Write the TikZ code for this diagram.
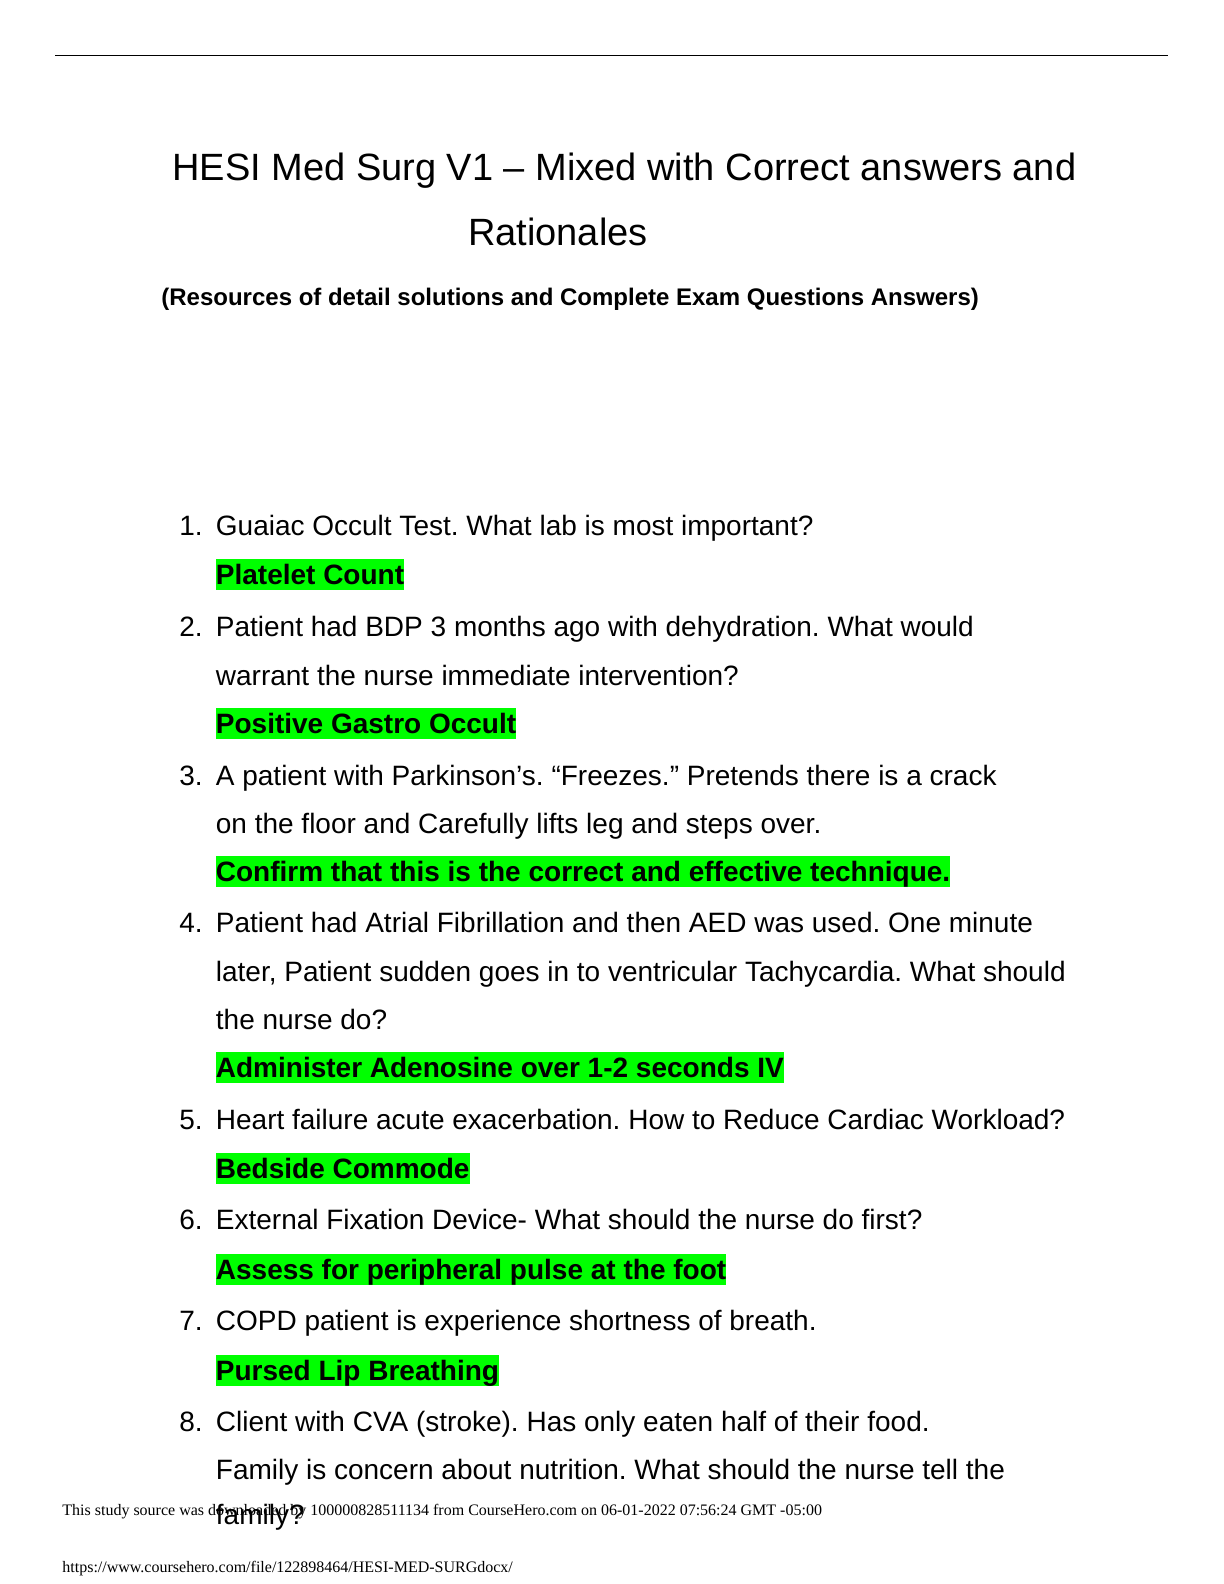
\documentclass[tikz,border=0pt]{standalone}
\usepackage{tikz}
\usepackage{fontspec}
\setmainfont{Liberation Sans}
\newfontfamily\footfont{Liberation Serif}
\definecolor{hlgreen}{RGB}{0,255,0}
\frenchspacing
\begin{document}
\begin{tikzpicture}[x=0.5pt,y=-0.5pt,
		every node/.style={inner sep=0pt,anchor=base west},
		qtext/.style={font=\fontsize{14}{16}\selectfont},
		anstext/.style={font=\fontsize{14}{16}\selectfont\bfseries,fill=hlgreen,
			text height=12.67pt,text depth=2.97pt},
		foot/.style={font=\footfont\fontsize{8}{9}\selectfont}]
		\useasboundingbox (0,0) rectangle (1224,1584);

		\coordinate (ruleL) at (55,55.7);
		\coordinate (ruleR) at (1168,55.7);
		\draw [line width=0.75pt] (ruleL) -- (ruleR);

		\node [font=\fontsize{19}{22}\selectfont] at (172,180) (title1) {HESI Med Surg V1 – Mixed with Correct answers and};
		\node [font=\fontsize{19}{22}\selectfont] at (467.7,245) (title2) {Rationales};
		\node [font=\fontsize{12}{14}\selectfont\bfseries] at (161,305) (subtitle) {(Resources of detail solutions and Complete Exam Questions Answers)};

		% questions and answers
		\node [qtext] at (179,535) (n1) {1.};
		\node [qtext] at (215.5,535) (q1) {Guaiac Occult Test. What lab is most important?};
		\node [anstext] at (215.5,584) (a1) {Platelet Count};

		\node [qtext] at (179,636) (n2) {2.};
		\node [qtext] at (215.5,636) (q2a) {Patient had BDP 3 months ago with dehydration. What would};
		\node [qtext] at (215.5,685) (q2b) {warrant the nurse immediate intervention?};
		\node [anstext] at (215.5,733) (a2) {Positive Gastro Occult};

		\node [qtext] at (179,785) (n3) {3.};
		\node [qtext] at (215.5,785) (q3a) {A patient with Parkinson’s. “Freezes.” Pretends there is a crack};
		\node [qtext] at (215.5,833) (q3b) {on the floor and Carefully lifts leg and steps over.};
		\node [anstext] at (215.5,881) (a3) {Confirm that this is the correct and effective technique.};

		\node [qtext] at (179,932) (n4) {4.};
		\node [qtext] at (215.5,932) (q4a) {Patient had Atrial Fibrillation and then AED was used. One minute};
		\node [qtext] at (215.5,981) (q4b) {later, Patient sudden goes in to ventricular Tachycardia. What should};
		\node [qtext] at (215.5,1029) (q4c) {the nurse do?};
		\node [anstext] at (215.5,1077) (a4) {Administer Adenosine over 1-2 seconds IV};

		\node [qtext] at (179,1129) (n5) {5.};
		\node [qtext] at (215.5,1129) (q5) {Heart failure acute exacerbation. How to Reduce Cardiac Workload?};
		\node [anstext] at (215.5,1178) (a5) {Bedside Commode};

		\node [qtext] at (179,1229) (n6) {6.};
		\node [qtext] at (215.5,1229) (q6) {External Fixation Device- What should the nurse do first?};
		\node [anstext] at (215.5,1279) (a6) {Assess for peripheral pulse at the foot};

		\node [qtext] at (179,1330) (n7) {7.};
		\node [qtext] at (215.5,1330) (q7) {COPD patient is experience shortness of breath.};
		\node [anstext] at (215.5,1380) (a7) {Pursed Lip Breathing};

		\node [qtext] at (179,1431) (n8) {8.};
		\node [qtext] at (215.5,1431) (q8a) {Client with CVA (stroke). Has only eaten half of their food.};
		\node [qtext] at (215.5,1479) (q8b) {Family is concern about nutrition. What should the nurse tell the};

		% page footer
		\node [foot] at (62,1515) (source) {This study source was downloaded by 100000828511134 from CourseHero.com on 06-01-2022 07:56:24 GMT -05:00};
		\node [qtext] at (215.5,1524) (q8c) {family?};
		\node [foot] at (62,1572) (url) {https://www.coursehero.com/file/122898464/HESI-MED-SURGdocx/};
	\end{tikzpicture}
\end{document}
